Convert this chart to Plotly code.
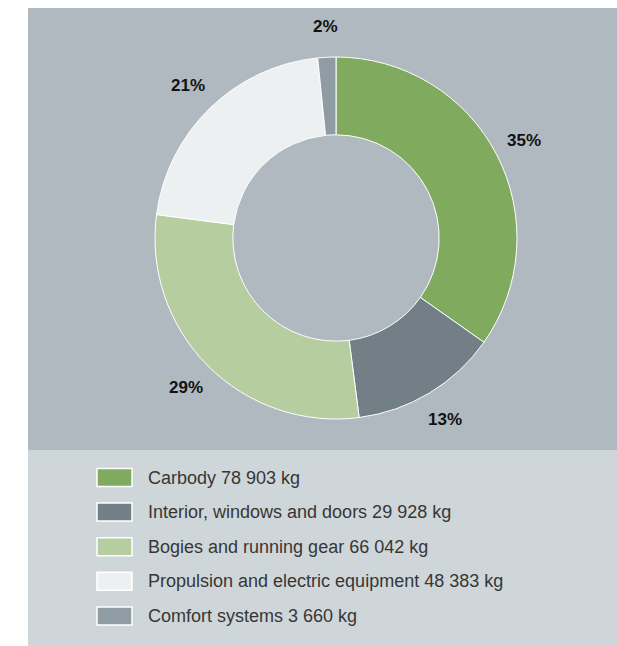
import math
import plotly.graph_objects as go

categories = ["Carbody", "Interior, windows and doors", "Bogies and running gear",
              "Propulsion and electric equipment", "Comfort systems"]
weights_kg = [78903, 29928, 66042, 48383, 3660]
legend_weights = ["78 903", "29 928", "66 042", "48 383", "3 660"]
colors = ["#80aa5e", "#727f87", "#b5cd9f", "#edf0f1", "#8f9ca4"]

W, H = 617, 646
cx, cy, R = 336, 238, 181
hole = 0.57

fig = go.Figure()
fig.add_trace(go.Pie(
    labels=categories, values=weights_kg, sort=False, direction="clockwise",
    rotation=0, hole=hole,
    marker=dict(colors=colors, line=dict(color="#ffffff", width=1)),
    textinfo="none", hoverinfo="label+value+percent", showlegend=False,
    domain=dict(x=[(cx - R) / W, (cx + R) / W], y=[1 - (cy + R) / H, 1 - (cy - R) / H]),
))

shapes = [
    dict(type="rect", xref="paper", yref="paper", x0=28 / W, x1=1, y0=1 - 450 / H, y1=1 - 8 / H,
         fillcolor="#afb9bf", line=dict(width=0), layer="below"),
    dict(type="rect", xref="paper", yref="paper", x0=28 / W, x1=1, y0=1 - 646 / H, y1=1 - 450 / H,
         fillcolor="#cfd6d9", line=dict(width=0), layer="below"),
]
annotations = []

# percentage labels around the ring
total = sum(weights_kg)
start = 90.0
label_r = 212
for v in weights_kg:
    span = v / total * 360
    mid = math.radians(start - span / 2)
    start -= span
    x = cx + label_r * math.cos(mid)
    y = cy - label_r * math.sin(mid)
    annotations.append(dict(
        x=x / W, y=1 - y / H, xref="paper", yref="paper", showarrow=False,
        text=f"<b>{round(v / total * 100)}%</b>",
        font=dict(family="Liberation Sans, Arial, sans-serif", size=17, color="#111111"),
        xanchor="center", yanchor="middle"))

# legend
row0, step = 477.5, 34.6
for i, (cat, w, c) in enumerate(zip(categories, legend_weights, colors)):
    yc = row0 + i * step
    shapes.append(dict(type="rect", xref="paper", yref="paper",
                       x0=97 / W, x1=132 / W, y0=1 - (yc + 9) / H, y1=1 - (yc - 9) / H,
                       fillcolor=c, line=dict(color="#ffffff", width=1.5)))
    annotations.append(dict(
        x=146 / W, y=1 - yc / H, xref="paper", yref="paper", showarrow=False,
        text=f"{cat} {w} kg", xanchor="left", yanchor="middle",
        font=dict(family="Liberation Sans, Arial, sans-serif", size=18, color="#363636")))

fig.update_layout(
    width=W, height=H, margin=dict(l=0, r=0, t=0, b=0),
    paper_bgcolor="#ffffff", plot_bgcolor="rgba(0,0,0,0)",
    shapes=shapes, annotations=annotations, showlegend=False,
)
fig.write_html("out.html")
